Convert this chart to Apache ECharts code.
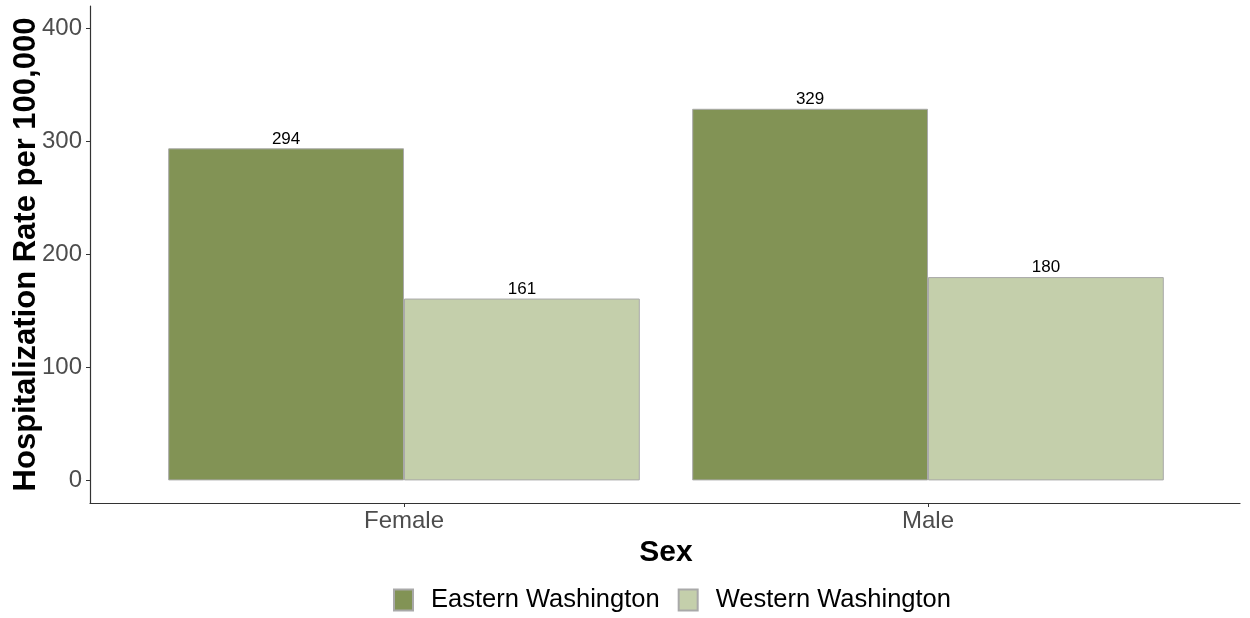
<!DOCTYPE html>
<html>
<head>
<meta charset="utf-8">
<script src="https://cdn.jsdelivr.net/npm/echarts@6/dist/echarts.min.js"></script>
<style>html,body{margin:0;padding:0;background:#fff}#c{width:1250px;height:618px}</style>
</head>
<body>
<div id="c"></div>
<script>
const categories = ['Female', 'Male'];
const seriesNames = ['Eastern Washington', 'Western Washington'];
const eastern = [294, 329];
const western = [161, 180];
const yTicks = [0, 100, 200, 300, 400];

const font = 'Liberation Sans, Arial, sans-serif';
const chart = echarts.init(document.getElementById('c'));
const barLabel = { show: true, position: 'top', distance: 1, color: '#000', fontSize: 17, fontFamily: font };
chart.setOption({
  animation: false,
  textStyle: { fontFamily: font },
  grid: [
    { left: 90, right: 10, top: 6, bottom: 115, containLabel: false, outerBoundsMode: 'none' },
    { left: 142, right: 60, top: 6, bottom: 115, containLabel: false, outerBoundsMode: 'none' }
  ],
  xAxis: [
    { gridIndex: 0, type: 'value', min: 0, max: 1,
      axisLine: { show: true, onZero: false, lineStyle: { color: '#333', width: 1.2 } },
      axisTick: { show: false }, axisLabel: { show: false }, splitLine: { show: false } },
    { gridIndex: 1, type: 'category', data: categories,
      axisLine: { show: false, onZero: false },
      axisTick: { show: true, alignWithLabel: true, length: 4, lineStyle: { color: '#333' } },
      axisLabel: { color: '#4d4d4d', fontSize: 24, margin: 6, fontFamily: font },
      name: 'Sex', nameLocation: 'middle', nameGap: 32,
      nameTextStyle: { fontSize: 30, fontWeight: 'bold', color: '#000', fontFamily: font } }
  ],
  yAxis: [
    { gridIndex: 0, type: 'value', min: -20, max: 420,
      axisLine: { show: true, onZero: false, lineStyle: { color: '#333', width: 1.2 } },
      axisTick: { show: true, length: 4, customValues: yTicks, lineStyle: { color: '#333' } },
      axisLabel: { customValues: yTicks, color: '#4d4d4d', fontSize: 24, margin: 8, fontFamily: font },
      splitLine: { show: false },
      name: 'Hospitalization Rate per 100,000', nameLocation: 'middle', nameGap: 48, nameMoveOverlap: false,
      nameTextStyle: { fontSize: 31, fontWeight: 'bold', color: '#000', fontFamily: font } },
    { gridIndex: 1, type: 'value', min: -20, max: 420, show: false, splitLine: { show: false } }
  ],
  legend: {
    bottom: 0, left: 388, icon: 'rect', itemWidth: 19, itemHeight: 21, itemGap: 18,
    textStyle: { fontSize: 25.5, color: '#000', fontFamily: font, padding: [0, 0, 0, 13] },
    data: seriesNames
  },
  series: [
    { name: seriesNames[0], type: 'bar', xAxisIndex: 1, yAxisIndex: 1, data: eastern,
      barGap: '0%', barCategoryGap: '10%',
      itemStyle: { color: '#829355', borderColor: '#a9a9a9', borderWidth: 1 }, label: barLabel },
    { name: seriesNames[1], type: 'bar', xAxisIndex: 1, yAxisIndex: 1, data: western,
      barGap: '0%', barCategoryGap: '10%',
      itemStyle: { color: '#c4cfab', borderColor: '#a9a9a9', borderWidth: 1 }, label: barLabel }
  ]
});
</script>
</body>
</html>
